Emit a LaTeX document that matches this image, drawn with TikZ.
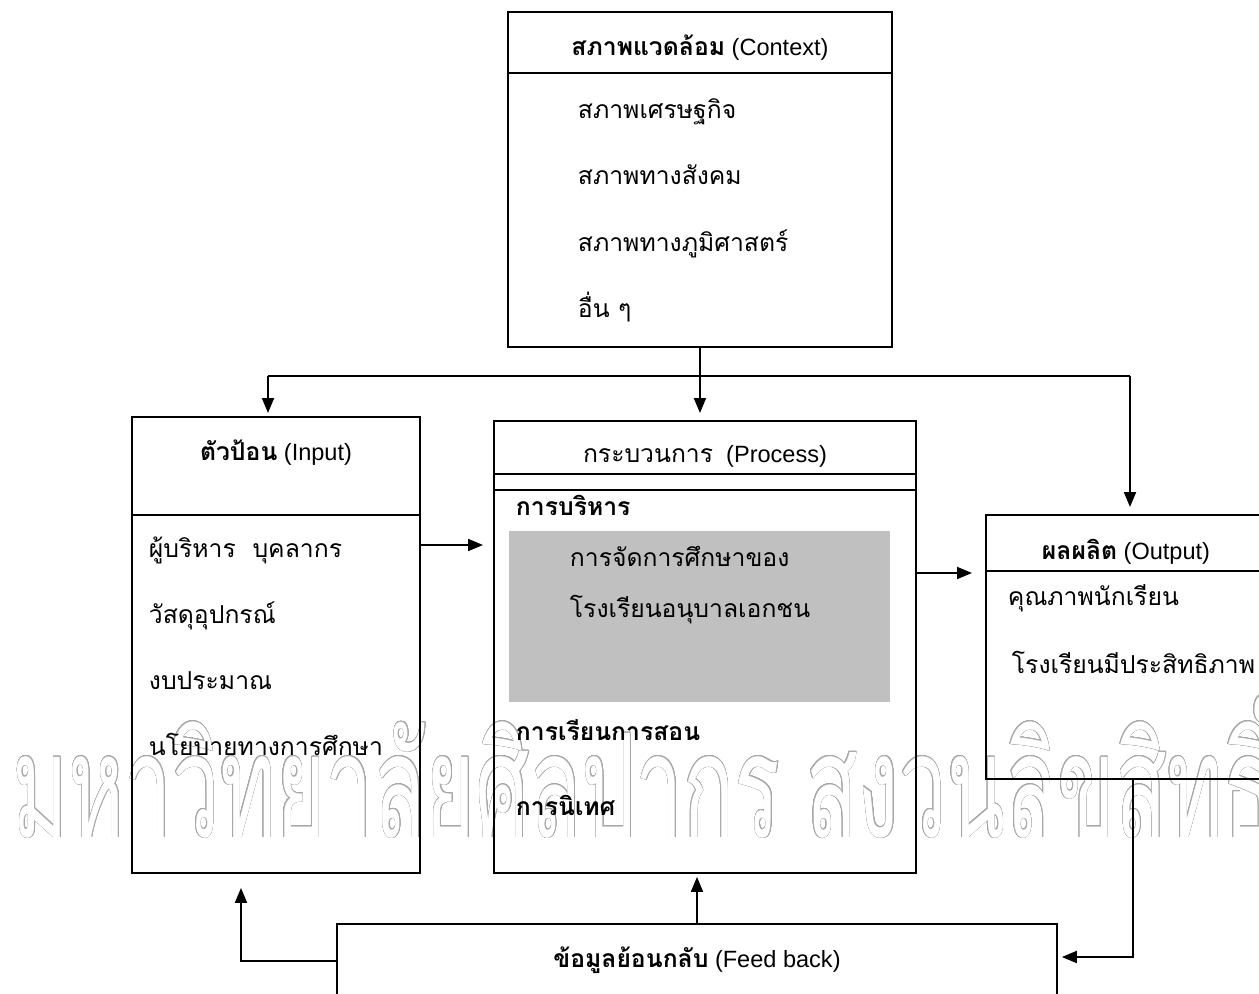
\documentclass[tikz,border=0pt]{standalone}
\usepackage{fontspec}
\setmainfont{Liberation Sans}
\newfontfamily\thai[Script=Thai,Scale=1.05]{Loma}
\newfontfamily\wmfont[Script=Thai]{Loma}
\usepackage[copies]{contour}
\usetikzlibrary{arrows.meta}
\definecolor{boxgray}{HTML}{C0C0C0}
\definecolor{wmgray}{HTML}{A8A8A8}
\contourlength{0.5pt}
\contournumber{24}
\newcommand\dsz{\fontsize{13.4}{16}\selectfont}

\begin{document}
\begin{tikzpicture}[x=0.02cm, y=-0.02cm, line width=1.1pt,
    box/.style={draw, anchor=north west, inner sep=0pt, outer sep=0pt},
    arr/.style={-{Triangle[length=0.3cm,width=0.24cm]}},
    txt/.style={anchor=base west, inner sep=0pt, font=\dsz\thai},
    ttl/.style={anchor=base, inner sep=0pt, font=\dsz},
    hd/.style={anchor=base west, inner sep=0pt, font=\dsz\thai\bfseries}]
    \clip (0,0) rectangle (1259,994);
    \node[anchor=base west, inner sep=0pt, xscale=0.59, transform shape] (wmark) at (12,837)
        {\wmfont\fontsize{82}{82}\selectfont\contour{wmgray}{\color{white}มหาวิทยาลัยศิลปากร\hspace{0.3em}สงวนลิขสิทธิ์}};
    % boxes
    \node[box, minimum width=7.68cm, minimum height=6.7cm] (ctx) at (508,12) {};
    \node[box, minimum width=5.76cm, minimum height=9.12cm] (inp) at (132,417) {};
    \fill[boxgray] (509,531) rectangle (890,702);
    \node[box, minimum width=8.44cm, minimum height=9.04cm] (proc) at (494,421) {};
    \node[box, minimum width=5.6cm, minimum height=5.28cm] (outp) at (986,515) {};
    \node[box, minimum width=14.4cm, minimum height=1.6cm] (fb) at (337,924) {};
    \draw (ctx.west |- 0,73) -- (ctx.east |- 0,73);
    \draw (inp.west |- 0,515) -- (inp.east |- 0,515);
    \draw (proc.west |- 0,474) -- (proc.east |- 0,474);
    \draw (proc.west |- 0,490) -- (proc.east |- 0,490);
    \draw (outp.west |- 0,571) -- (outp.east |- 0,571);
    % context
    \node[ttl] (ctxttl) at (700,55) {\textbf{\thai สภาพแวดล้อม} (Context)};
    \foreach \t [count=\i] in {สภาพเศรษฐกิจ, สภาพทางสังคม, สภาพทางภูมิศาสตร์, อื่น ๆ}
        \node[txt] (ctx\i) at (577,51.5+66.5*\i) {\t};
    % input
    \node[ttl] (inpttl) at (276,460) {\textbf{\thai ตัวป้อน} (Input)};
    \foreach \t [count=\i] in {ผู้บริหาร~ บุคลากร, วัสดุอุปกรณ์, งบประมาณ, นโยบายทางการศึกษา}
        \node[txt] (inp\i) at (148,491+66*\i) {\t};
    % process
    \node[ttl] (procttl) at (705,462) {{\thai กระบวนการ}~~(Process)};
    \node[hd] (adm) at (515,515) {การบริหาร};
    \node[txt] (adm1) at (569,566) {การจัดการศึกษาของ};
    \node[txt] (adm2) at (569,617) {โรงเรียนอนุบาลเอกชน};
    \node[hd] (teach) at (515,740) {การเรียนการสอน};
    \node[hd] (sup) at (515,815) {การนิเทศ};
    % output
    \node[ttl] (outpttl) at (1126,559) {\textbf{\thai ผลผลิต} (Output)};
    \node[txt] (outp1) at (1007,605) {คุณภาพนักเรียน};
    \node[txt] (outp2) at (1011,673) {โรงเรียนมีประสิทธิภาพ};
    % feedback
    \node[ttl] (fbttl) at (697,967) {\textbf{\thai ข้อมูลย้อนกลับ} (Feed back)};
    % connectors
    \coordinate (busL) at (268,376);
    \coordinate (busR) at (1130,376);
    \draw (busL) -- (busR);
    \draw[arr, shorten >=0.16cm] (ctx.south) -- (ctx.south |- proc.north);
    \draw[arr, shorten >=0.08cm] (busL) -- (busL |- inp.north);
    \draw[arr, shorten >=0.16cm] (busR) -- (busR |- outp.north);
    \draw[arr, shorten >=0.22cm] (inp.east |- 0,545) -- (proc.west |- 0,545);
    \draw[arr, shorten >=0.28cm] (proc.east |- 0,573) -- (outp.west |- 0,573);
    \draw[arr, shorten >=0.1cm] (outp.south -| 1133,0) |- (fb.east |- 0,957);
    \draw[arr, shorten >=0.3cm] (fb.west |- 0,961) -| (inp.south -| 241,0);
    \draw[arr, shorten >=0.08cm] (fb.north -| 697,0) -- (proc.south -| 697,0);
\end{tikzpicture}
\end{document}
